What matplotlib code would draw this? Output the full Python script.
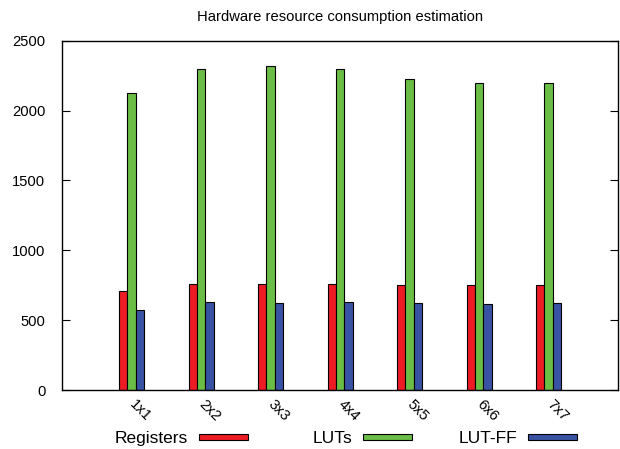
import numpy as np
import matplotlib
matplotlib.use("Agg")
import matplotlib.pyplot as plt
from matplotlib.patches import Rectangle

plt.rcParams['font.family'] = ['Liberation Sans', 'DejaVu Sans']

# data
sizes = ["1x1", "2x2", "3x3", "4x4", "5x5", "6x6", "7x7"]
registers = [709, 757, 759, 757, 749, 749, 749]
luts = [2124, 2295, 2317, 2295, 2226, 2200, 2200]
lut_ff = [573, 628, 621, 628, 621, 613, 621]

series = [
    ("Registers", registers, "#ED1C24"),
    ("LUTs", luts, "#6ABD45"),
    ("LUT-FF", lut_ff, "#3953A4"),
]

fs = 10.6
W, H = 620, 449

fig = plt.figure(figsize=(6.2, 4.49), dpi=100)
ax = fig.add_axes([0.1, 0.1314, 0.897, 0.778])

x = np.arange(len(sizes))
w = 0.12
for i, (name, vals, col) in enumerate(series):
    ax.bar(x + (i - 1) * w, vals, width=w, color=col, edgecolor="black",
           linewidth=0.8, label=name)

ax.set_xlim(-1, 7)
ax.set_ylim(0, 2500)
ax.set_yticks([0, 500, 1000, 1500, 2000, 2500])
ax.tick_params(axis="y", direction="in", length=6, width=0.8, right=True,
               labelsize=fs, pad=12)
ax.set_xticks(x)
ax.set_xticklabels(sizes, rotation=-45, ha="left", va="center",
                   rotation_mode="anchor", fontsize=fs)
ax.tick_params(axis="x", length=0, pad=9)
for s in ax.spines.values():
    s.set_linewidth(1.0)

ax.set_title("Hardware resource consumption estimation", fontsize=fs, pad=14)

# gnuplot-style key below the plot: label first, then a sample box
key_x = [199, 363, 528]   # left edge of sample box, in pixels
for (name, vals, col), kx in zip(series, key_x):
    fig.text((kx - 11) / W, 1 - 438.5 / H, name, ha="right", va="center",
             fontsize=12.5)
    fig.add_artist(Rectangle((kx / W, 1 - 440 / H), 49 / W, 6 / H,
                             transform=fig.transFigure, facecolor=col,
                             edgecolor="black", linewidth=0.8))

fig.savefig("out.png", dpi=100)
